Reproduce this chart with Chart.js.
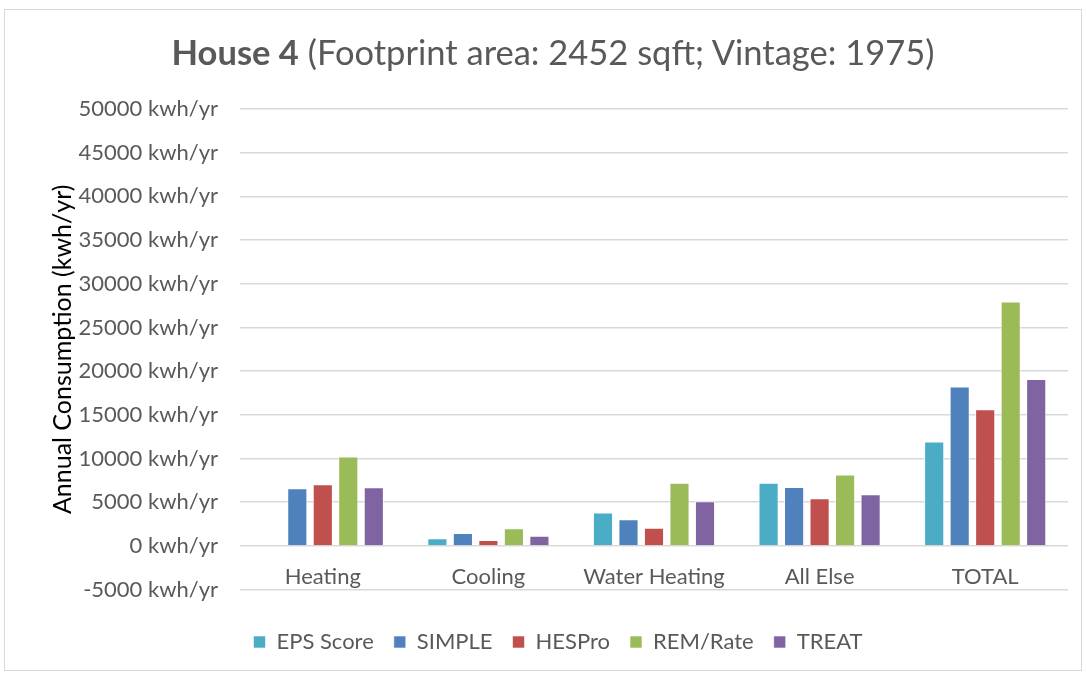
<!DOCTYPE html>
<html>
<head>
<meta charset="utf-8">
<script src="https://cdn.jsdelivr.net/npm/chart.js@4"></script>
<style>
  body { margin: 0; background: #fff; }
  #frame { position: absolute; left: 4px; top: 9px; width: 1076px; height: 660px; border: 1px solid #D9D9D9; }
  #title { position: absolute; left: 20px; right: 0; top: 21px; text-align: center; font-family: Lato, sans-serif; font-size: 34.5px; color: #595959; }
  canvas { position: absolute; left: 0; top: 0; }
</style>
</head>
<body>
<div id="frame">
  <canvas id="c" width="1076" height="660"></canvas>
  <div id="title"><b>House 4</b> (Footprint area: 2452 sqft; Vintage: 1975)</div>
</div>
<script>
// categories and series
const categories = ['Heating', 'Cooling', 'Water Heating', 'All Else', 'TOTAL'];
const epsScore = [0, 870, 3830, 7240, 11950];
const simple = [6600, 1490, 3060, 6740, 18230];
const hesPro = [7050, 690, 2070, 5440, 15630];
const remRate = [10230, 2020, 7240, 8160, 27970];
const treat = [6700, 1150, 5100, 5900, 19110];
const yMin = -5000, yMax = 50000, yStep = 5000;

const textColor = '#595959';
const font = 'Lato, sans-serif';

const mk = (label, data, color) => ({
  label, data, backgroundColor: color,
  borderColor: 'rgba(255,255,255,0.6)', borderWidth: 1,
  categoryPercentage: 0.77, barPercentage: 0.79
});

new Chart(document.getElementById('c').getContext('2d'), {
  type: 'bar',
  data: {
    labels: categories,
    datasets: [
      mk('EPS Score', epsScore, '#4BACC6'),
      mk('SIMPLE', simple, '#4F81BD'),
      mk('HESPro', hesPro, '#C0504D'),
      mk('REM/Rate', remRate, '#9BBB59'),
      mk('TREAT', treat, '#8064A2')
    ]
  },
  options: {
    responsive: false,
    animation: false,
    layout: { padding: { top: 99, right: 13, bottom: 7, left: 43 } },
    plugins: {
      tooltip: { enabled: false },
      legend: {
        position: 'bottom',
        // empty title only adds room above the legend row
        title: { display: true, text: ' ', font: { size: 2 }, padding: { top: 19, bottom: 0 } },
        labels: {
          boxWidth: 12, boxHeight: 12, padding: 20,
          color: textColor, font: { family: font, size: 22 }
        }
      }
    },
    scales: {
      x: {
        position: { y: 0 },
        grid: { display: false },
        border: { display: false },
        ticks: { color: textColor, font: { family: font, size: 22 }, padding: 10 }
      },
      y: {
        min: yMin, max: yMax,
        afterFit: s => { s.width = 192; },
        grid: { color: '#D9D9D9', lineWidth: 1.5, drawTicks: false },
        border: { display: false },
        ticks: {
          stepSize: yStep, padding: 22, color: textColor,
          font: { family: font, size: 22 },
          callback: v => v + ' kwh/yr'
        },
        title: {
          display: true, text: 'Annual Consumption (kwh/yr)',
          color: '#000', font: { family: font, size: 25 },
          padding: { top: 0, bottom: 0 }
        }
      }
    }
  }
});
</script>
</body>
</html>
